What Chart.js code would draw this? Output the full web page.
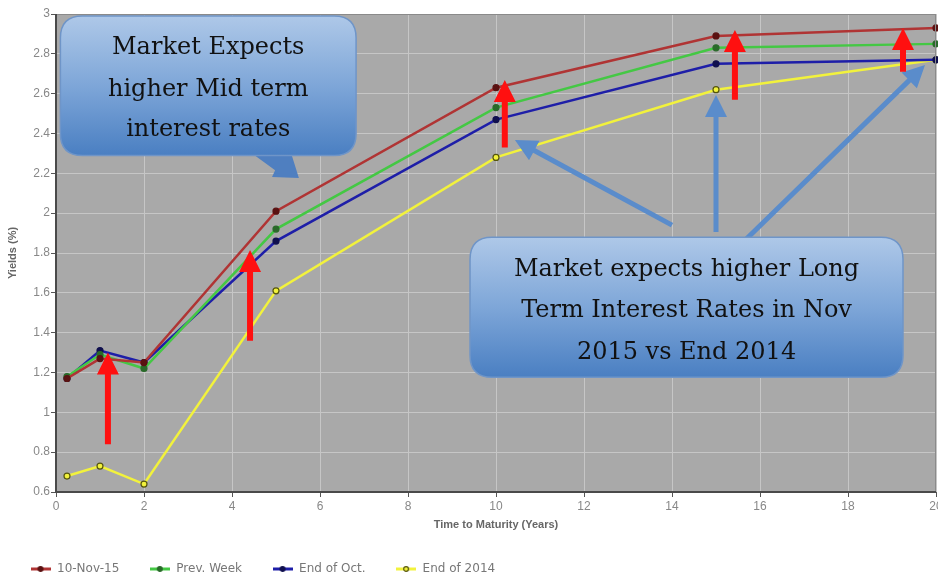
<!DOCTYPE html>
<html>
<head>
<meta charset="utf-8">
<script src="https://cdn.jsdelivr.net/npm/chart.js@4"></script>
<style>
  html, body { margin: 0; padding: 0; background: #fff; }
  #wrap { width: 938px; height: 583px; }
</style>
</head>
<body>
<div id="wrap"><canvas id="yieldChart" width="938" height="583"></canvas></div>
<script>
  // maturities (years) and yields (%)
  const maturities = [0.25, 1, 2, 5, 10, 15, 20];
  const seriesNames = ['10-Nov-15', 'Prev. Week', 'End of Oct.', 'End of 2014'];
  const nov10 = [1.17, 1.27, 1.25, 2.01, 2.63, 2.89, 2.93];
  const prevWeek = [1.18, 1.29, 1.22, 1.92, 2.53, 2.83, 2.85];
  const endOct = [1.17, 1.31, 1.25, 1.86, 2.47, 2.75, 2.77];
  const end2014 = [0.68, 0.73, 0.64, 1.61, 2.28, 2.62, 2.77];
  const xTicks = [0, 2, 4, 6, 8, 10, 12, 14, 16, 18, 20];

  // callouts & arrows, in data units
  const callouts = [
    { x0: 0.1, x1: 6.82, y0: 2.99, y1: 2.29,
      tail: [[4.52, 2.29], [5.36, 2.29], [5.52, 2.176], [4.91, 2.181], [4.98, 2.216]],
      lines: ['Market Expects', 'higher Mid term', 'interest rates'], ly: [2.83, 2.618, 2.417] },
    { x0: 9.41, x1: 19.25, y0: 1.879, y1: 1.176, tail: null,
      lines: ['Market expects higher Long', 'Term Interest Rates in Nov', '2015 vs End 2014'], ly: [1.714, 1.51, 1.30] }
  ];
  const blueArrows = [
    [[14, 1.94], [10.43, 2.367]],
    [[15, 1.905], [15, 2.593]],
    [[15.66, 1.864], [19.75, 2.744]]
  ];
  const redArrows = [
    [1.18, 0.84, 1.30],
    [4.41, 1.36, 1.815],
    [10.2, 2.33, 2.668],
    [15.43, 2.57, 2.92],
    [19.25, 2.71, 2.93]
  ];

  const lineColors = ['#b03434', '#44c844', '#1e1ea8', '#f2f23c'];
  const pointColors = ['#5a1212', '#2a6a2a', '#10104e', '#f2f23c'];
  const pointBorders = ['#5a1212', '#2a6a2a', '#10104e', '#55550e'];

  function legendIcon(i) {
    const c = document.createElement('canvas');
    c.width = 20; c.height = 8;
    const g = c.getContext('2d');
    g.strokeStyle = lineColors[i];
    g.lineWidth = 3;
    g.beginPath(); g.moveTo(0, 4); g.lineTo(20, 4); g.stroke();
    g.beginPath(); g.arc(10, 4, 2.4, 0, Math.PI * 2);
    g.fillStyle = pointColors[i]; g.fill();
    g.lineWidth = 1.2; g.strokeStyle = pointBorders[i]; g.stroke();
    return c;
  }

  const values = [nov10, prevWeek, endOct, end2014];
  const datasets = values.map((v, i) => ({
    label: seriesNames[i],
    data: maturities.map((m, j) => ({ x: m, y: v[j] })),
    borderColor: lineColors[i],
    borderWidth: 2.5,
    pointRadius: 3,
    pointStyle: 'circle',
    pointBackgroundColor: pointColors[i],
    pointBorderColor: pointBorders[i],
    pointBorderWidth: 1.2,
    tension: 0,
    clip: false
  }));
  const icons = values.map((v, i) => legendIcon(i));

  function roundRect(g, x, y, w, h, r) {
    g.beginPath();
    g.moveTo(x + r, y);
    g.lineTo(x + w - r, y); g.quadraticCurveTo(x + w, y, x + w, y + r);
    g.lineTo(x + w, y + h - r); g.quadraticCurveTo(x + w, y + h, x + w - r, y + h);
    g.lineTo(x + r, y + h); g.quadraticCurveTo(x, y + h, x, y + h - r);
    g.lineTo(x, y + r); g.quadraticCurveTo(x, y, x + r, y);
    g.closePath();
  }

  function arrow(g, x1, y1, x2, y2, width, headW, headL, color) {
    const ang = Math.atan2(y2 - y1, x2 - x1);
    const len = Math.hypot(x2 - x1, y2 - y1);
    g.save();
    g.translate(x1, y1);
    g.rotate(ang);
    g.fillStyle = color;
    g.beginPath();
    g.moveTo(0, -width / 2);
    g.lineTo(len - headL, -width / 2);
    g.lineTo(len - headL, -headW / 2);
    g.lineTo(len, 0);
    g.lineTo(len - headL, headW / 2);
    g.lineTo(len - headL, width / 2);
    g.lineTo(0, width / 2);
    g.closePath();
    g.fill();
    g.restore();
  }

  const plotBg = {
    id: 'plotBg',
    beforeLayout(chart) {
      // keep the legend row short, label gap stays wide
      const lg = chart.legend;
      if (lg && !lg._patched) {
        const fit = lg.fit;
        lg.fit = function() { fit.call(this); this.height = 50; };
        lg._patched = true;
      }
    },
    beforeDraw(chart) {
      const { ctx, chartArea: a } = chart;
      ctx.save();
      ctx.fillStyle = '#a9a9a9';
      ctx.fillRect(a.left, a.top, a.right - a.left, a.bottom - a.top);
      ctx.restore();
    },
    afterDraw(chart) {
      const { ctx, chartArea: a } = chart;
      ctx.save();
      ctx.strokeStyle = '#8a8a8a';
      ctx.lineWidth = 1;
      ctx.strokeRect(a.left + 0.5, a.top + 0.5, a.right - a.left - 1, a.bottom - a.top - 1);
      ctx.strokeStyle = '#4a4a4a';
      ctx.lineWidth = 2;
      ctx.beginPath();
      ctx.moveTo(a.left, a.top); ctx.lineTo(a.left, a.bottom); ctx.lineTo(a.right, a.bottom);
      ctx.stroke();
      ctx.restore();
    }
  };

  const notes = {
    id: 'notes',
    afterDatasetsDraw(chart) {
      const { ctx } = chart;
      const xs = chart.scales.x, ys = chart.scales.y;
      const px = v => xs.getPixelForValue(v), py = v => ys.getPixelForValue(v);
      ctx.save();
      // blue arrows
      blueArrows.forEach(([a, b]) => {
        arrow(ctx, px(a[0]), py(a[1]), px(b[0]), py(b[1]), 5, 22, 22, '#5a8ccb');
      });
      // callouts
      callouts.forEach(c => {
        const x = px(c.x0), y = py(c.y0), w = px(c.x1) - x, h = py(c.y1) - y;
        if (c.tail) {
          ctx.fillStyle = '#4f7fc0';
          ctx.beginPath();
          c.tail.forEach((p, k) => k ? ctx.lineTo(px(p[0]), py(p[1])) : ctx.moveTo(px(p[0]), py(p[1])));
          ctx.closePath();
          ctx.fill();
        }
        const grad = ctx.createLinearGradient(0, y, 0, y + h);
        grad.addColorStop(0, '#aec8e8');
        grad.addColorStop(0.5, '#7ea6d8');
        grad.addColorStop(1, '#4a7fc2');
        roundRect(ctx, x, y, w, h, 22);
        ctx.fillStyle = grad;
        ctx.fill();
        ctx.strokeStyle = '#6f95c8';
        ctx.lineWidth = 1.5;
        ctx.stroke();
        ctx.fillStyle = '#111';
        ctx.font = '24px "DejaVu Serif", serif';
        ctx.textAlign = 'center';
        ctx.textBaseline = 'middle';
        c.lines.forEach((t, k) => ctx.fillText(t, x + w / 2, py(c.ly[k])));
      });
      // red arrows
      redArrows.forEach(([xv, y0, y1]) => {
        arrow(ctx, px(xv), py(y0), px(xv), py(y1), 6, 22, 22, '#ff1010');
      });
      ctx.restore();
    }
  };

  const sans = '"Liberation Sans", Arial, sans-serif';

  new Chart(document.getElementById('yieldChart'), {
    type: 'line',
    data: { datasets },
    plugins: [plotBg, notes],
    options: {
      responsive: false,
      animation: false,
      layout: { autoPadding: false, padding: { top: 14, right: 2, left: 0, bottom: 0 } },
      plugins: {
        tooltip: { enabled: false },
        legend: {
          position: 'bottom',
          align: 'start',
          labels: {
            usePointStyle: true,
            pointStyleWidth: 21,
            color: '#777',
            font: { family: '"DejaVu Sans", Verdana, sans-serif', size: 12 },
            padding: 30,
            generateLabels(chart) {
              return chart.data.datasets.map((d, i) => ({
                text: d.label,
                pointStyle: icons[i],
                fontColor: '#777',
                lineWidth: 0,
                datasetIndex: i
              }));
            }
          }
        }
      },
      scales: {
        x: {
          type: 'linear',
          min: 0,
          max: 20,
          afterBuildTicks(scale) { scale.ticks = xTicks.map(v => ({ value: v })); },
          afterFit(scale) { scale.paddingRight = 0; scale.paddingLeft = 0; scale.height = 41; },
          grid: { color: '#c6c6c6', tickColor: '#555', tickLength: 5 },
          border: { display: false },
          ticks: { color: '#888', font: { family: sans, size: 12 }, padding: 2, maxRotation: 0 },
          title: {
            display: true,
            text: 'Time to Maturity (Years)',
            color: '#666',
            font: { family: sans, size: 11, weight: 'bold' },
            padding: { top: 2, bottom: 1 }
          }
        },
        y: {
          min: 0.6,
          max: 3,
          afterFit(scale) { scale.width = 56; },
          grid: { color: '#c6c6c6', tickColor: '#555', tickLength: 5 },
          border: { display: false },
          ticks: {
            stepSize: 0.2,
            color: '#888',
            font: { family: sans, size: 12 },
            padding: 1,
            callback: v => String(Number(v.toFixed(1)))
          },
          title: {
            display: true,
            text: 'Yields (%)',
            color: '#666',
            font: { family: sans, size: 11, weight: 'bold' },
            padding: { top: 6, bottom: 2 }
          }
        }
      }
    }
  });
</script>
</body>
</html>
